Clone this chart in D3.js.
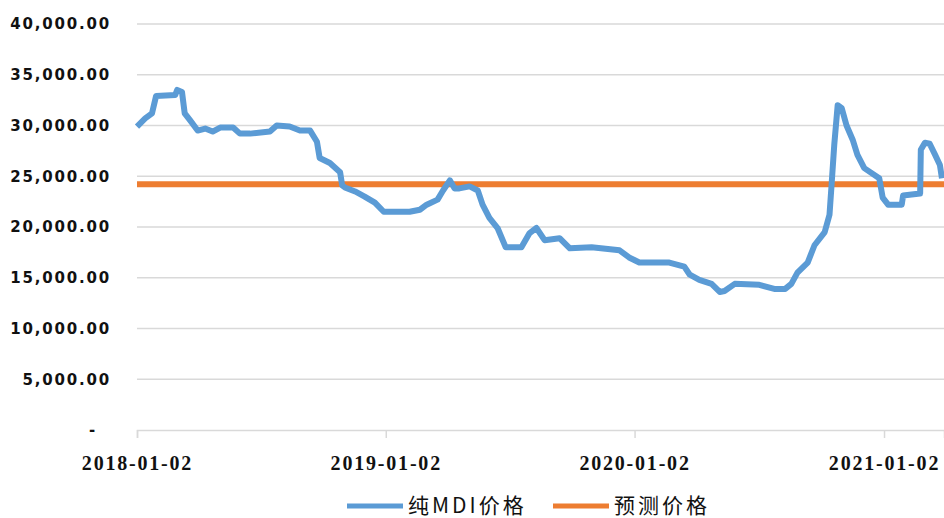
<!DOCTYPE html>
<html>
<head>
<meta charset="utf-8">
<script src="https://cdn.jsdelivr.net/npm/d3@7"></script>
<style>
  body { margin: 0; background: #fff; }
  .ylab { font-family: "DejaVu Sans", sans-serif; font-weight: bold; font-size: 15px; letter-spacing: 1.8px; fill: #111; }
  .xlab { font-family: "Liberation Serif", serif; font-weight: bold; font-size: 20px; letter-spacing: 1.8px; fill: #111; }
  .leg { font-family: "Noto Sans CJK SC", serif; font-size: 21px; letter-spacing: 3px; fill: #111; }
</style>
</head>
<body>
<div id="chart"></div>
<script>
// chart data
var dates = [
  "2018-01-02","2018-01-14","2018-01-24","2018-01-30","2018-02-27","2018-03-02","2018-03-09","2018-03-13",
  "2018-03-21","2018-04-01","2018-04-12","2018-04-23","2018-05-04","2018-05-23","2018-06-02","2018-06-17",
  "2018-07-16","2018-07-26","2018-08-14","2018-08-29","2018-09-13","2018-09-23","2018-09-27","2018-10-12",
  "2018-10-27","2018-10-30","2018-11-03","2018-11-18","2018-12-02","2018-12-17","2018-12-30",
  "2019-02-06","2019-02-21","2019-03-03","2019-03-19","2019-03-27","2019-04-06","2019-04-13","2019-04-20",
  "2019-05-05","2019-05-17","2019-05-24","2019-06-03","2019-06-15","2019-06-27","2019-07-20","2019-08-01",
  "2019-08-11","2019-08-23","2019-09-14","2019-09-29","2019-10-31","2019-12-11","2019-12-25",
  "2020-01-09","2020-02-22","2020-03-15","2020-03-23","2020-04-06","2020-04-24","2020-05-06","2020-05-13",
  "2020-05-28","2020-07-03","2020-07-25","2020-08-10","2020-08-19","2020-08-28","2020-09-12","2020-09-22",
  "2020-10-07","2020-10-14","2020-10-17","2020-10-21","2020-10-26","2020-11-01","2020-11-08","2020-11-17",
  "2020-11-24","2020-12-04","2020-12-26","2020-12-31",
  "2021-01-08","2021-01-28","2021-01-30","2021-02-24","2021-02-25","2021-03-03","2021-03-10","2021-03-18",
  "2021-03-25","2021-03-28"
];
var mdiPrice = [
  29900, 30700, 31200, 32900, 33000, 33500, 33300, 31200,
  30500, 29500, 29700, 29400, 29800, 29800, 29200, 29200,
  29400, 30000, 29900, 29500, 29500, 28400, 26800, 26300,
  25400, 24100, 23900, 23500, 23000, 22400, 21500,
  21500, 21700, 22200, 22700, 23600, 24600, 23800, 23800,
  24000, 23600, 22200, 20900, 19900, 18000, 18000, 19400,
  19900, 18700, 18900, 17900, 18000, 17700, 17000,
  16500, 16500, 16100, 15300, 14800, 14400, 13600, 13700,
  14400, 14300, 13900, 13900, 14400, 15500, 16500, 18200,
  19500, 21200, 24100, 28100, 32000, 31700, 30000, 28600,
  27100, 25800, 24800, 22900,
  22200, 22200, 23100, 23300, 27600, 28300, 28200, 27100,
  26100, 24800
];
var forecastPrice = 24200;
var yTicks = [0, 5000, 10000, 15000, 20000, 25000, 30000, 35000, 40000];
var xTicks = ["2018-01-02", "2019-01-02", "2020-01-02", "2021-01-02"];
var seriesNames = ["纯MDI价格", "预测价格"];
var seriesColors = ["#5B9BD5", "#ED7D31"];

var parseDate = d3.timeParse("%Y-%m-%d");
var svgWidth = 944, svgHeight = 518;
var margin = { top: 24, right: 0, bottom: 88, left: 137 };
var width = svgWidth - margin.left - margin.right;
var height = svgHeight - margin.top - margin.bottom;

var data = dates.map(function(d, i) {
  return { date: parseDate(d), value: mdiPrice[i] };
});

var svg = d3.select("#chart").append("svg")
  .attr("width", svgWidth)
  .attr("height", svgHeight);

var chartGroup = svg.append("g")
  .attr("transform", `translate(${margin.left}, ${margin.top})`);

var xScale = d3.scaleTime()
  .domain([parseDate("2018-01-02"), parseDate("2021-03-31")])
  .range([0, width]);

var yScale = d3.scaleLinear()
  .domain([0, 40000])
  .range([height, 0]);

// gridlines
chartGroup.selectAll("line.grid")
  .data(yTicks.filter(function(d) { return d > 0; }))
  .enter()
  .append("line")
  .classed("grid", true)
  .attr("x1", 0)
  .attr("x2", width)
  .attr("y1", d => yScale(d))
  .attr("y2", d => yScale(d))
  .attr("stroke", "#d9d9d9")
  .attr("stroke-width", 1.5);

// y labels
var fmt = d3.format(",.2f");
chartGroup.selectAll("text.ylab")
  .data(yTicks)
  .enter()
  .append("text")
  .classed("ylab", true)
  .attr("x", d => d === 0 ? -40 : -26)
  .attr("y", d => yScale(d))
  .attr("dy", "0.36em")
  .attr("text-anchor", "end")
  .text(d => d === 0 ? "-" : fmt(d));

// x axis
var xAxis = d3.axisBottom(xScale)
  .tickValues(xTicks.map(parseDate))
  .tickSize(8)
  .tickFormat(d3.timeFormat("%Y-%m-%d"));

var xAxisG = chartGroup.append("g")
  .attr("transform", `translate(0, ${height})`)
  .call(xAxis);
xAxisG.select(".domain").attr("stroke", "#d9d9d9").attr("stroke-width", 1.5);
xAxisG.selectAll(".tick line").attr("stroke", "#d9d9d9").attr("stroke-width", 1.5);
xAxisG.selectAll(".tick text")
  .attr("class", "xlab")
  .attr("y", 26)
  .attr("dy", "0.71em")
  .attr("font-family", null)
  .attr("font-size", null);

// forecast line
chartGroup.append("line")
  .attr("x1", 0)
  .attr("x2", width)
  .attr("y1", yScale(forecastPrice))
  .attr("y2", yScale(forecastPrice))
  .attr("stroke", seriesColors[1])
  .attr("stroke-width", 6);

// MDI price line
var line = d3.line()
  .x(d => xScale(d.date))
  .y(d => yScale(d.value));

chartGroup.append("path")
  .datum(data)
  .attr("d", line)
  .attr("fill", "none")
  .attr("stroke", seriesColors[0])
  .attr("stroke-width", 6)
  .attr("stroke-linejoin", "round");

// legend
var legendX = [347, 553];
var legend = svg.selectAll("g.legend")
  .data(seriesNames)
  .enter()
  .append("g")
  .classed("legend", true)
  .attr("transform", (d, i) => `translate(${legendX[i]}, 506)`);

legend.append("line")
  .attr("x1", 0)
  .attr("x2", 56)
  .attr("stroke", (d, i) => seriesColors[i])
  .attr("stroke-width", 5);

legend.append("text")
  .classed("leg", true)
  .attr("x", 61)
  .attr("y", 0)
  .attr("dy", "0.33em")
  .text(d => d);
</script>
</body>
</html>
